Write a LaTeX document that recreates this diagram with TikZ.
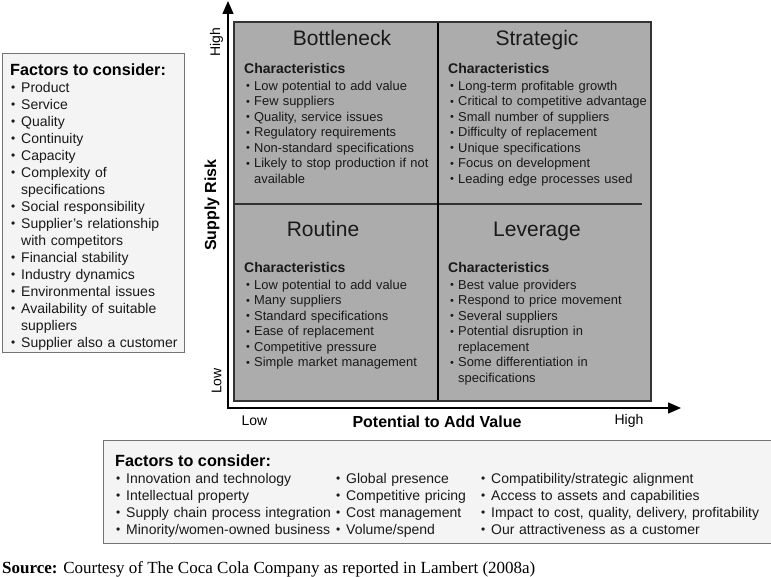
\documentclass[tikz,border=0pt]{standalone}
\usepackage{fontspec}
\usepackage{graphicx}
\setmainfont{Liberation Sans}
\newfontfamily\serifsrc{Liberation Serif}
\usetikzlibrary{arrows.meta}

\definecolor{quadgray}{RGB}{172,172,172}
\definecolor{boxgray}{RGB}{244,244,244}
\definecolor{boxline}{RGB}{115,115,115}
\definecolor{inkgray}{RGB}{25,25,25}

% bullets and continuation indents
\newcommand{\dotb}{\raisebox{0.06em}{\scalebox{0.85}{\textbullet}}}
\newcommand{\bul}{\makebox[10pt][l]{\hspace{2pt}\dotb}}
\newcommand{\cont}{\hspace*{10pt}}
\newcommand{\fbul}{\makebox[11pt][l]{\hspace{0.8pt}\dotb}}
\newcommand{\fcont}{\hspace*{11pt}}

\tikzset{
  quadtitle/.style={anchor=base, inner sep=0pt, text=inkgray, font=\fontsize{21}{25}\selectfont},
  quadtext/.style={anchor=base west, align=left, text width=200pt, inner sep=0pt, text=inkgray,
    font=\fontsize{12.9}{15.5}\selectfont},
  factbox/.style={draw=boxline, fill=boxgray, line width=1pt},
  facthead/.style={anchor=base west, inner sep=0pt, font=\bfseries\fontsize{16.2}{19}\selectfont},
  factext/.style={anchor=base west, align=left, text width=260pt, inner sep=0pt, text=inkgray,
    font=\fontsize{14}{17}\selectfont},
  axislabel/.style={inner sep=0pt, font=\fontsize{14}{17}\selectfont},
  axistitle/.style={inner sep=0pt, font=\bfseries\fontsize{16}{19}\selectfont},
}

\begin{document}
\begin{tikzpicture}[x=1pt, y=-1pt, >={Triangle[length=13pt,width=11pt]}]
  \useasboundingbox (0,0) rectangle (771,577);

  % Left factors box
  \draw[factbox] (2.5,54) rectangle (184,352.5);
  \node[facthead] (leftfac-head) at (10,76) {Factors to consider:};
  \node[factext, text width=175pt] (leftfac) at (10,92.5) {%
    \fbul Product\\ \fbul Service\\ \fbul Quality\\ \fbul Continuity\\ \fbul Capacity\\
    \fbul Complexity of\\ \fcont specifications\\ \fbul Social responsibility\\
    \fbul Supplier's relationship\\ \fcont with competitors\\ \fbul Financial stability\\
    \fbul Industry dynamics\\ \fbul Environmental issues\\ \fbul Availability of suitable\\
    \fcont suppliers\\ \fbul Supplier also a customer};

  % Matrix
  \fill[quadgray] (234,22) rectangle (651,401);
  \draw[black!80, line width=1.2pt] (234,204) -- (642,204);
  \draw[black, line width=1.3pt] (438,22) -- (438,401);
  \draw[black!80, line width=1.8pt] (234,22) rectangle (651,401);

  % Axes
  \coordinate (origin) at (228,408);
  \coordinate (ytip) at (228,1);
  \coordinate (xtip) at (681,408);
  \draw[<->, line width=1.5pt] (ytip) -- (origin) -- (xtip);

  \node[axislabel, rotate=90] (y-high) at (216.5,42) {High};
  \node[axislabel, rotate=90] (y-low) at (216.5,381) {Low};
  \node[axistitle, rotate=90] (y-title) at (212,205) {Supply Risk};
  \node[axislabel] (x-low) at (254.5,421) {Low};
  \node[axistitle] (x-title) at (437,422) {Potential to Add Value};
  \node[axislabel] (x-high) at (629,421) {High};

  % Quadrant titles
  \node[quadtitle] (bottleneck) at (342,46) {Bottleneck};
  \node[quadtitle] (strategic) at (537,46) {Strategic};
  \node[quadtitle] (routine) at (323,237) {Routine};
  \node[quadtitle] (leverage) at (537,237) {Leverage};

  % Quadrant characteristics
  \node[quadtext] (bottleneck-char) at (244,74) {%
    {\bfseries\fontsize{14}{15.5}\selectfont Characteristics}\\[0.8pt]
    \bul Low potential to add value\\ \bul Few suppliers\\ \bul Quality, service issues\\
    \bul Regulatory requirements\\ \bul Non-standard specifications\\
    \bul Likely to stop production if not\\ \cont available};
  \node[quadtext] (strategic-char) at (448,74) {%
    {\bfseries\fontsize{14}{15.5}\selectfont Characteristics}\\[0.8pt]
    \bul Long-term profitable growth\\ \bul Critical to competitive advantage\\
    \bul Small number of suppliers\\ \bul Difficulty of replacement\\
    \bul Unique specifications\\ \bul Focus on development\\ \bul Leading edge processes used};
  \node[quadtext] (routine-char) at (244,273) {%
    {\bfseries\fontsize{14}{15.5}\selectfont Characteristics}\\[0.8pt]
    \bul Low potential to add value\\ \bul Many suppliers\\ \bul Standard specifications\\
    \bul Ease of replacement\\ \bul Competitive pressure\\ \bul Simple market management};
  \node[quadtext] (leverage-char) at (448,273) {%
    {\bfseries\fontsize{14}{15.5}\selectfont Characteristics}\\[0.8pt]
    \bul Best value providers\\ \bul Respond to price movement\\ \bul Several suppliers\\
    \bul Potential disruption in\\ \cont replacement\\ \bul Some differentiation in\\
    \cont specifications};

  % Bottom factors box
  \draw[factbox] (103.5,440) rectangle (775,543.5);
  \node[facthead] (botfac-head) at (115,466) {Factors to consider:};
  \node[factext] (botfac-a) at (115,483.5) {%
    \fbul Innovation and technology\\ \fbul Intellectual property\\
    \fbul Supply chain process integration\\ \fbul Minority/women-owned business};
  \node[factext] (botfac-b) at (335,483.5) {%
    \fbul Global presence\\ \fbul Competitive pricing\\ \fbul Cost management\\ \fbul Volume/spend};
  \node[factext, text width=300pt] (botfac-c) at (480,483.5) {%
    \fbul Compatibility/strategic alignment\\ \fbul Access to assets and capabilities\\
    \fbul Impact to cost, quality, delivery, profitability\\ \fbul Our attractiveness as a customer};

  % Source line
  \node[anchor=base west, inner sep=0pt, font=\serifsrc\fontsize{17}{20}\selectfont] (source) at (2,573)
    {\textbf{Source:} Courtesy of The Coca Cola Company as reported in Lambert (2008a)};
\end{tikzpicture}
\end{document}
